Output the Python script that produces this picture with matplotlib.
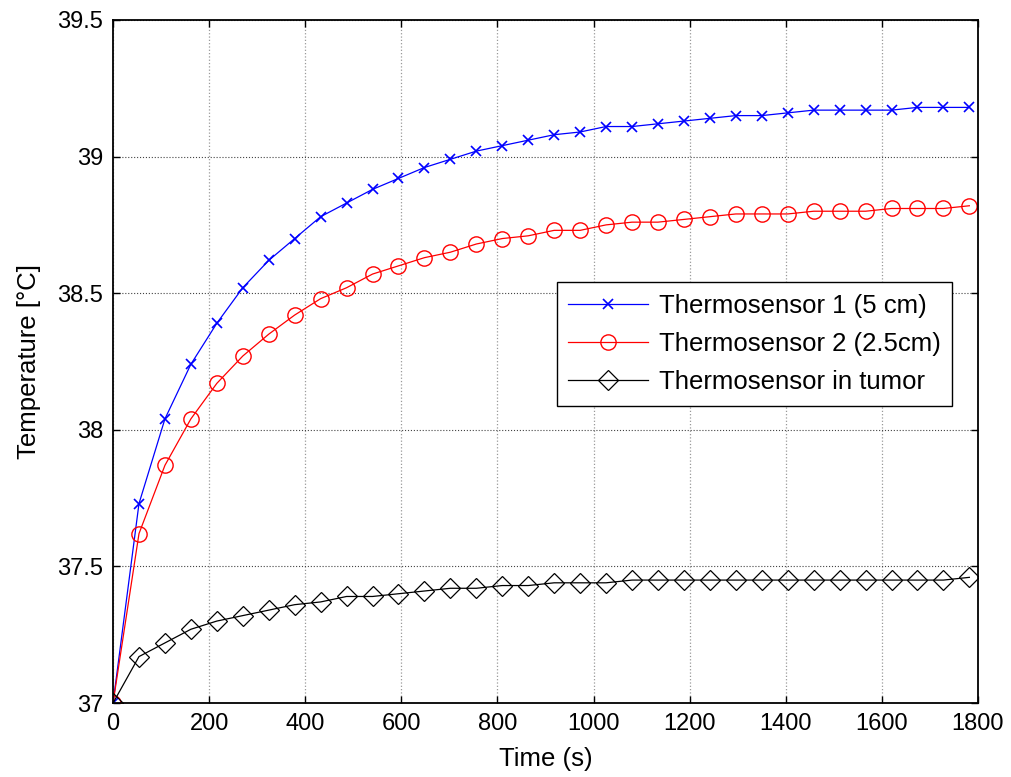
import numpy as np
import matplotlib
matplotlib.use("Agg")
import matplotlib.pyplot as plt

plt.rcParams['font.family'] = ['Liberation Sans', 'DejaVu Sans']

time_s = np.arange(0, 1783, 54)

sensor1 = [37.00, 37.73, 38.04, 38.24, 38.39, 38.52, 38.62, 38.70, 38.78, 38.83,
           38.88, 38.92, 38.96, 38.99, 39.02, 39.04, 39.06, 39.08, 39.09, 39.11,
           39.11, 39.12, 39.13, 39.14, 39.15, 39.15, 39.16, 39.17, 39.17, 39.17,
           39.17, 39.18, 39.18, 39.18]
sensor2 = [37.00, 37.62, 37.87, 38.04, 38.17, 38.27, 38.35, 38.42, 38.48, 38.52,
           38.57, 38.60, 38.63, 38.65, 38.68, 38.70, 38.71, 38.73, 38.73, 38.75,
           38.76, 38.76, 38.77, 38.78, 38.79, 38.79, 38.79, 38.80, 38.80, 38.80,
           38.81, 38.81, 38.81, 38.82]
tumor = [37.00, 37.17, 37.22, 37.27, 37.30, 37.32, 37.34, 37.36, 37.37, 37.39,
         37.39, 37.40, 37.41, 37.42, 37.42, 37.43, 37.43, 37.44, 37.44, 37.44,
         37.45, 37.45, 37.45, 37.45, 37.45, 37.45, 37.45, 37.45, 37.45, 37.45,
         37.45, 37.45, 37.45, 37.46]

labels = ['Thermosensor 1 (5 cm)', 'Thermosensor 2 (2.5cm)', 'Thermosensor in tumor']

fig = plt.figure(figsize=(10.12, 7.77), dpi=100)
ax = fig.add_axes([0.1117, 0.0952, 0.8547, 0.8791])

ax.plot(time_s, sensor1, color='blue', lw=0.9, marker='x', ms=7, mew=1.2, label=labels[0])
ax.plot(time_s, sensor2, color='red', lw=0.9, marker='o', ms=11, mfc='none', mew=1.0, label=labels[1])
ax.plot(time_s, tumor, color='black', lw=0.9, marker='D', ms=10, mfc='none', mew=0.9, label=labels[2])

ax.set_xlim(0, 1800)
ax.set_ylim(37, 39.5)
ax.set_xticks(np.arange(0, 1801, 200))
ax.set_yticks([37, 37.5, 38, 38.5, 39, 39.5])
ax.set_yticklabels(['37', '37.5', '38', '38.5', '39', '39.5'])
ax.xaxis.grid(True, color='#999999', linestyle=':', linewidth=0.9)
ax.yaxis.grid(True, color='#444444', linestyle=':', linewidth=0.8)
ax.tick_params(direction='in', top=True, right=True, labelsize=17, length=5, width=1, pad=7)
for s in ax.spines.values():
    s.set_linewidth(1.3)

ax.set_xlabel('Time (s)', fontsize=18.5, labelpad=9)
ax.set_ylabel('Temperature [°C]', fontsize=18.5, labelpad=12)

leg = ax.legend(loc='upper left', bbox_to_anchor=(0.513, 0.616), borderaxespad=0,
                fontsize=18.5, fancybox=False, framealpha=1, edgecolor='black',
                borderpad=0.45, handlelength=3.1, handletextpad=0.43, labelspacing=0.55)
leg.get_frame().set_linewidth(1.0)

fig.savefig('out.png', dpi=100)
